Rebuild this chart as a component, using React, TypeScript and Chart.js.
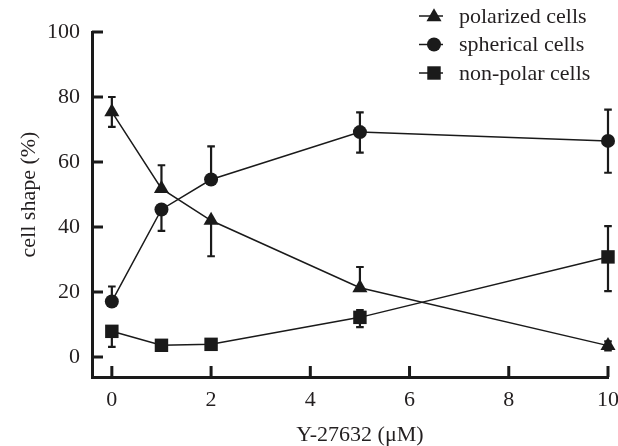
import React, { useEffect, useRef } from 'react';
import { Chart, registerables } from 'chart.js';

Chart.register(...registerables);

const doses = [0, 1, 2, 5, 10];
const polarized = [75.4, 51.8, 42, 21.3, 3.5];
const polarizedHigh = [80, 59, null, 27.7, 4.8];
const polarizedLow = [70.8, null, 31, null, 2];
const spherical = [17.1, 45.4, 54.6, 69.2, 66.5];
const sphericalHigh = [21.7, null, 64.8, 75.3, 76.1];
const sphericalLow = [null, 38.8, null, 62.9, 56.7];
const nonPolar = [7.9, 3.6, 3.9, 12.2, 30.8];
const nonPolarHigh = [null, null, null, 14.4, 40.3];
const nonPolarLow = [3.1, null, null, 9.2, 20.3];
const xTicks = [0, 2, 4, 6, 8, 10];
const yTicks = [0, 20, 40, 60, 80, 100];
const seriesNames = ['polarized cells', 'spherical cells', 'non-polar cells'];
const xTitle = 'Y-27632 (μM)';
const yTitle = 'cell shape (%)';

const FONT = "'Liberation Serif', 'Times New Roman', serif";
const TEXT = '#231f20';
const INK = '#1a1a1a';
const styles = ['triangle', 'circle', 'rect'];
const radii = [8.7, 7, 9.5];

function drawMarker(ctx: CanvasRenderingContext2D, style: string, x: number, y: number, r: number) {
  ctx.beginPath();
  if (style === 'triangle') {
    const a = (2 * Math.PI) / 3;
    ctx.moveTo(x, y - r);
    ctx.lineTo(x + Math.sin(a) * r, y - Math.cos(a) * r);
    ctx.lineTo(x + Math.sin(2 * a) * r, y - Math.cos(2 * a) * r);
    ctx.closePath();
  } else if (style === 'circle') {
    ctx.arc(x, y, r, 0, Math.PI * 2);
  } else {
    const s = Math.SQRT1_2 * r;
    ctx.rect(x - s, y - s, 2 * s, 2 * s);
  }
  ctx.fill();
}

const highs = [polarizedHigh, sphericalHigh, nonPolarHigh];
const lows = [polarizedLow, sphericalLow, nonPolarLow];

const extrasPlugin = {
  id: 'extras',
  beforeDatasetsDraw(chart: any) {
    const ctx = chart.ctx as CanvasRenderingContext2D;
    const yScale = chart.scales.y;
    ctx.save();
    ctx.strokeStyle = INK;
    ctx.lineWidth = 2.2;
    chart.data.datasets.forEach((_ds: any, di: number) => {
      const meta = chart.getDatasetMeta(di);
      meta.data.forEach((pt: any, i: number) => {
        const cx = pt.x;
        const cy = pt.y;
        [highs[di][i], lows[di][i]].forEach((v) => {
          if (v === null || v === undefined) return;
          const py = yScale.getPixelForValue(v);
          ctx.beginPath();
          ctx.moveTo(cx, cy);
          ctx.lineTo(cx, py);
          ctx.moveTo(cx - 3.8, py);
          ctx.lineTo(cx + 3.8, py);
          ctx.stroke();
        });
      });
    });
    ctx.restore();
  },
  afterDraw(chart: any) {
    const ctx = chart.ctx as CanvasRenderingContext2D;
    const xs = chart.scales.x;
    const ys = chart.scales.y;
    const area = chart.chartArea;
    ctx.save();
    // inward tick marks
    ctx.strokeStyle = INK;
    ctx.lineWidth = 3;
    ctx.beginPath();
    yTicks.forEach((v) => {
      const py = ys.getPixelForValue(v);
      ctx.moveTo(area.left, py);
      ctx.lineTo(area.left + 11, py);
    });
    xTicks.forEach((v) => {
      const px = xs.getPixelForValue(v);
      ctx.moveTo(px, area.bottom);
      ctx.lineTo(px, area.bottom - 11);
    });
    ctx.stroke();

    // axis titles
    ctx.fillStyle = TEXT;
    ctx.font = `22px ${FONT}`;
    ctx.textAlign = 'center';
    ctx.textBaseline = 'middle';
    const xMid = xs.getPixelForValue((xTicks[0] + xTicks[xTicks.length - 1]) / 2);
    ctx.fillText(xTitle, xMid, 435);
    const yMid = ys.getPixelForValue((yTicks[0] + yTicks[yTicks.length - 1]) / 2);
    ctx.save();
    ctx.translate(29, yMid);
    ctx.rotate(-Math.PI / 2);
    ctx.fillText(yTitle, 0, 0);
    ctx.restore();

    // legend
    const lx0 = 419;
    const lx1 = 443;
    const mx = 434;
    const rows = [16, 44.5, 73];
    seriesNames.forEach((name, i) => {
      const y = rows[i];
      ctx.strokeStyle = INK;
      ctx.lineWidth = 1.5;
      ctx.beginPath();
      ctx.moveTo(lx0, y);
      ctx.lineTo(lx1, y);
      ctx.stroke();
      ctx.fillStyle = INK;
      drawMarker(ctx, styles[i], mx, y + (styles[i] === 'triangle' ? 1 : 0), radii[i]);
      ctx.fillStyle = TEXT;
      ctx.textAlign = 'left';
      ctx.textBaseline = 'middle';
      ctx.fillText(name, 459, y + 1);
    });
    ctx.restore();
  },
};

export default function App() {
  const ref = useRef<HTMLCanvasElement | null>(null);
  useEffect(() => {
    document.body.style.margin = '0';
    const canvas = ref.current;
    if (!canvas) return;
    const series = [polarized, spherical, nonPolar];
    const chart = new Chart(canvas, {
      type: 'line',
      data: {
        datasets: series.map((vals, si) => ({
          label: seriesNames[si],
          data: doses.map((x, i) => ({ x, y: vals[i] })),
          borderColor: INK,
          borderWidth: 1.5,
          pointStyle: styles[si] as any,
          pointRadius: radii[si],
          pointBackgroundColor: INK,
          pointBorderColor: INK,
          pointBorderWidth: 0,
          fill: false,
          tension: 0,
          clip: false as any,
        })),
      },
      options: {
        animation: false,
        responsive: false,
        devicePixelRatio: 1,
        layout: { padding: { top: 32, right: 10, left: 0, bottom: 0 } },
        plugins: { legend: { display: false }, tooltip: { enabled: false } },
        events: [],
        scales: {
          x: {
            type: 'linear',
            min: -0.4,
            max: 10,
            afterBuildTicks: (scale: any) => {
              scale.ticks = xTicks.map((v) => ({ value: v }));
            },
            afterFit: (scale: any) => {
              scale.height = 69;
              scale.paddingLeft = 0;
              scale.paddingRight = 0;
            },
            grid: { display: false, drawTicks: false },
            border: { display: true, color: INK, width: 3 },
            ticks: {
              font: { family: FONT, size: 22 },
              color: TEXT,
              padding: 10,
              maxRotation: 0,
              autoSkip: false,
            },
          },
          y: {
            type: 'linear',
            min: -6.15,
            max: 100,
            afterBuildTicks: (scale: any) => {
              scale.ticks = yTicks.map((v) => ({ value: v }));
            },
            afterFit: (scale: any) => {
              scale.width = 92;
              scale.paddingTop = 0;
              scale.paddingBottom = 0;
            },
            grid: { display: false, drawTicks: false },
            border: { display: true, color: INK, width: 3 },
            ticks: {
              font: { family: FONT, size: 22 },
              color: TEXT,
              padding: 12,
              autoSkip: false,
            },
          },
        },
      },
      plugins: [extrasPlugin],
    });
    return () => chart.destroy();
  }, []);
  return (
    <div style={{ position: 'fixed', left: 0, top: 0, width: 618, height: 446 }}>
      <canvas ref={ref} width={618} height={446} style={{ width: 618, height: 446, display: 'block' }} />
    </div>
  );
}
